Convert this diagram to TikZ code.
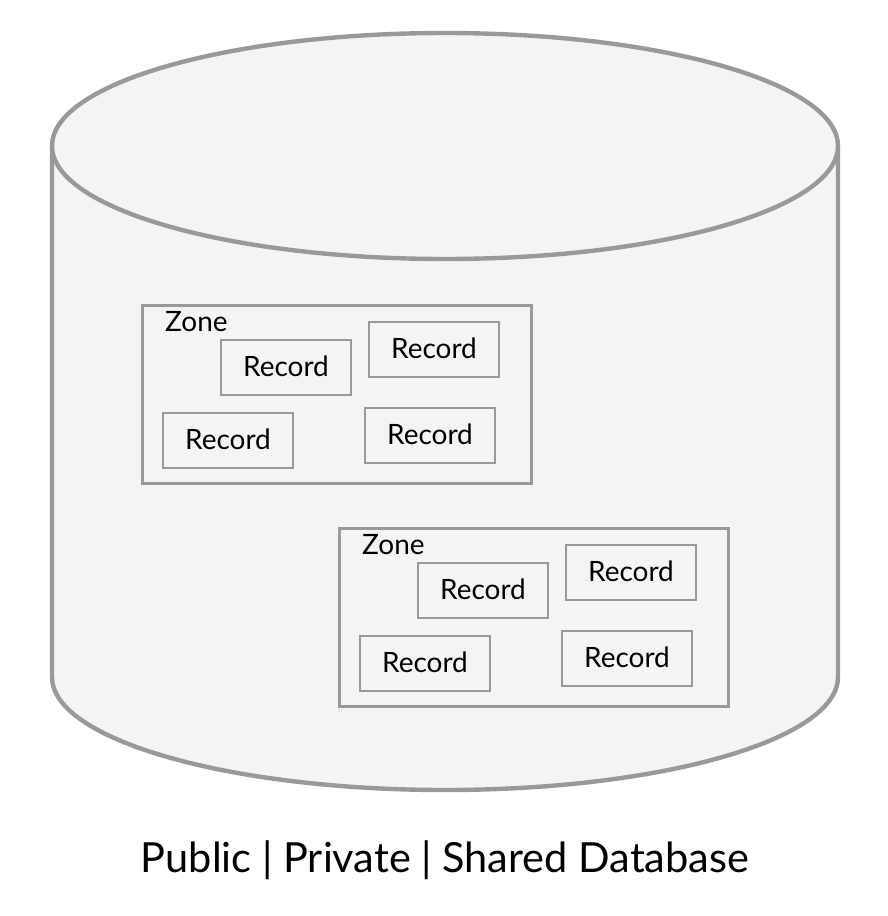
\documentclass[tikz,border=0pt]{standalone}
\usepackage{fontspec}
\setmainfont{Lato}
\definecolor{edge}{HTML}{999999}
\definecolor{bodyfill}{HTML}{F4F4F4}
\tikzset{
  recbox/.style={draw=edge, line width=2.2pt, fill=bodyfill, minimum width=130pt, minimum height=55pt, inner sep=0pt, font=\fontsize{28}{32}\selectfont},
  zonebox/.style={draw=edge, line width=3pt, fill=bodyfill, minimum width=389pt, minimum height=178pt, inner sep=0pt},
  zonelabel/.style={anchor=west, inner sep=0pt, font=\fontsize{28}{32}\selectfont},
}
\begin{document}
\begin{tikzpicture}[x=1pt,y=-1pt]
\useasboundingbox (0,0) rectangle (888,916);
% cylinder body
\path[fill=bodyfill, draw=edge, line width=4.4pt]
  (52,146) -- (52,677) arc[start angle=180, end angle=0, x radius=393, y radius=113] -- (838,146);
\draw[fill=bodyfill, draw=edge, line width=4.4pt] (445,146) ellipse[x radius=393, y radius=113];
% zone 1
\node[zonebox] (z1) at (336.5,394) {};
\node[zonelabel] (z1l) at (165,322) {Zone};
\node[recbox] (r11) at (286,367.5) {\raisebox{2pt}{Record}};
\node[recbox] (r12) at (434,349.5) {\raisebox{2pt}{Record}};
\node[recbox] (r13) at (228,440.5) {\raisebox{2pt}{Record}};
\node[recbox] (r14) at (430,435.5) {\raisebox{2pt}{Record}};
% zone 2
\node[zonebox] (z2) at (533.5,617) {};
\node[zonelabel] (z2l) at (362,545) {Zone};
\node[recbox] (r21) at (483,590.5) {\raisebox{2pt}{Record}};
\node[recbox] (r22) at (631,572.5) {\raisebox{2pt}{Record}};
\node[recbox] (r23) at (425,663.5) {\raisebox{2pt}{Record}};
\node[recbox] (r24) at (627,658.5) {\raisebox{2pt}{Record}};
% caption
\node[inner sep=0pt, font=\fontsize{41.5}{48}\selectfont] (cap) at (445,860) {Public | Private | Shared Database};
\end{tikzpicture}
\end{document}
